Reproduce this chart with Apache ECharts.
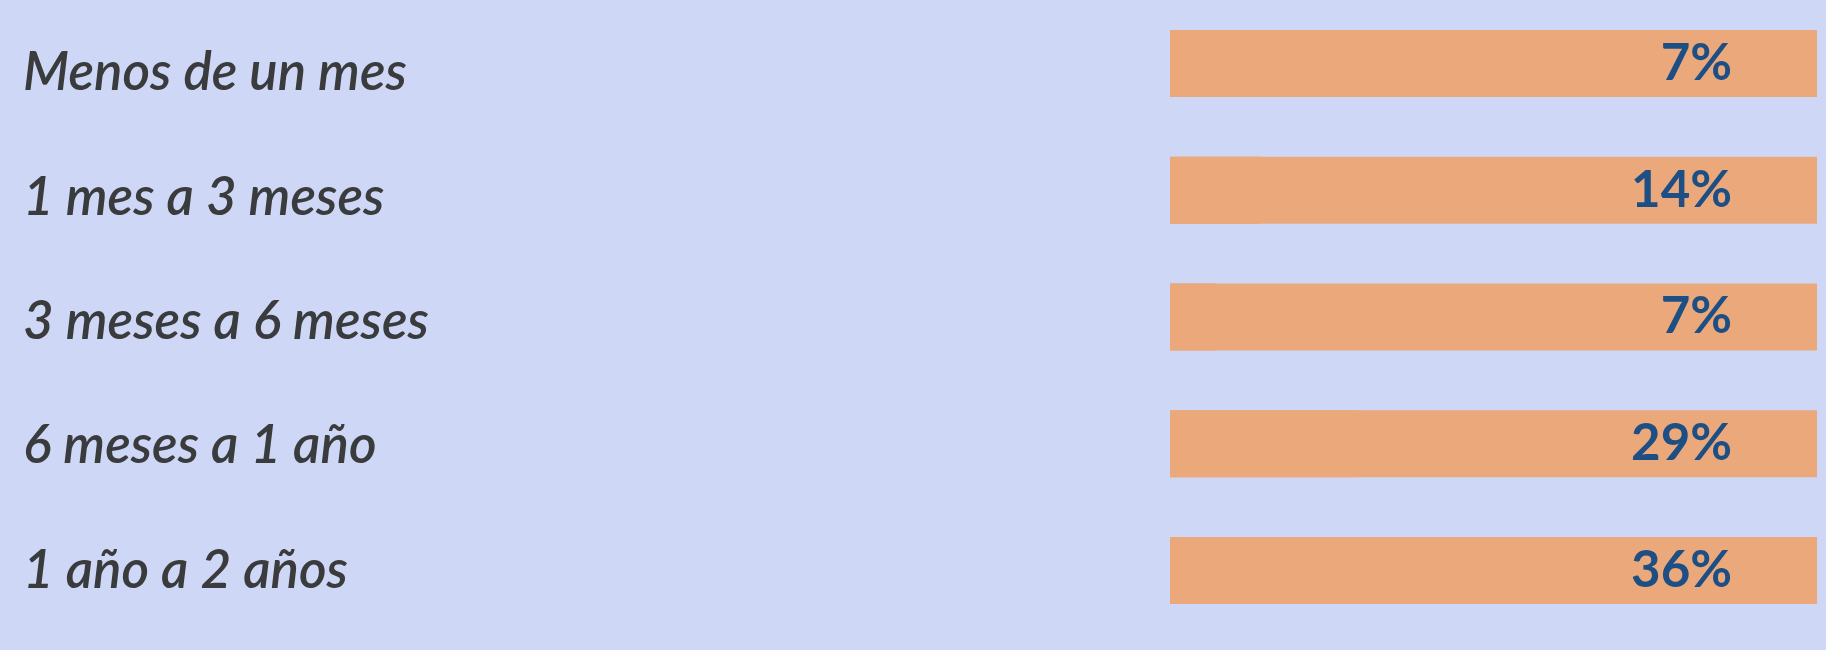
<!DOCTYPE html>
<html>
<head>
<meta charset="utf-8">
<script src="https://cdn.jsdelivr.net/npm/echarts@6/dist/echarts.min.js"></script>
<style>
  html, body { margin: 0; padding: 0; background: #ced8f6; }
  #chart { width: 1826px; height: 650px; }
</style>
</head>
<body>
<div id="chart"></div>
<script>
// categorias (de arriba a abajo)
var categorias = ['Menos de un mes', '1 mes a 3 meses', '3 meses a 6 meses', '6 meses a 1 año', '1 año a 2 años'];
// porcentajes
var valores = [7, 14, 7, 29, 36];

var chart = echarts.init(document.getElementById('chart'));

var option = {
    backgroundColor: '#ced8f6',
    animation: false,
    grid: [
        // barras
        { left: 1170, right: 9, top: 0, bottom: 16 },
        // textos de la izquierda
        { left: 1170, right: 9, top: 11, bottom: 17 }
    ],
    xAxis: [
        { type: 'value', min: 0, max: 100, show: false, gridIndex: 0 },
        { type: 'value', min: 0, max: 100, show: false, gridIndex: 1 }
    ],
    yAxis: [
        {
            // etiquetas de porcentaje dentro de la barra
            type: 'category',
            gridIndex: 0,
            data: categorias,
            inverse: true,
            position: 'right',
            z: 10,
            axisLine: { show: false },
            axisTick: { show: false },
            splitLine: { show: false },
            axisLabel: {
                inside: true,
                margin: 85,
                padding: [6, 0, 0, 0],
                fontFamily: 'Lato',
                fontWeight: 'bold',
                fontSize: 51,
                color: '#1d4f85',
                formatter: function(value, idx){
                    return valores[idx] + '%';
                }
            }
        },
        {
            type: 'category',
            gridIndex: 1,
            data: categorias,
            inverse: true,
            axisLine: { show: false },
            axisTick: { show: false },
            splitLine: { show: false },
            axisLabel: {
                align: 'left',
                margin: 1147,
                fontFamily: 'Lato',
                fontStyle: 'italic',
                fontWeight: 600,
                fontSize: 53,
                color: '#3a3b3d'
            }
        }
    ],
    series: [
        {
            type: 'bar',
            xAxisIndex: 0,
            yAxisIndex: 0,
            data: valores,
            barWidth: 67,
            itemStyle: { color: '#eba87a' },
            showBackground: true,
            backgroundStyle: { color: '#eba87a' },
            silent: true
        }
    ]
};

chart.setOption(option);
</script>
</body>
</html>
